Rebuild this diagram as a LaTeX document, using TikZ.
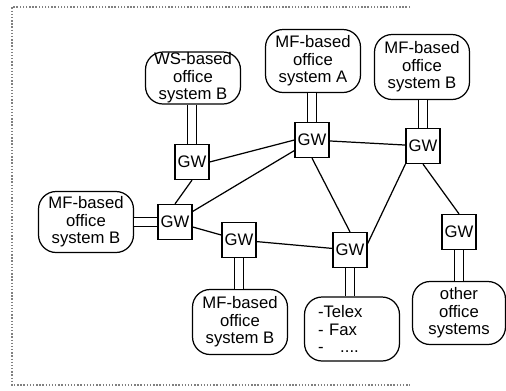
\documentclass[tikz,border=0pt]{standalone}
\usepackage{fontspec}
\setmainfont{Liberation Sans}
\begin{document}
\begin{tikzpicture}[x=0.02cm,y=-0.02cm]
\tikzstyle{every node}+=[inner sep=0pt, font=\fontsize{9.5}{10}\selectfont]
\tikzstyle{office}=[draw, line width=0.7pt, rounded corners=10pt, minimum width=1.9cm, minimum height=1.26cm, align=center]
\tikzstyle{gw}=[draw, line width=0.7pt, minimum width=0.68cm, minimum height=0.7cm]
\tikzstyle{link}=[line width=0.7pt]
\tikzstyle{dbl}=[line width=0.7pt, double=white, double distance=4pt]
\useasboundingbox (0,0) rectangle (506,390);
% scanned frame
\draw [gray, densely dotted, line width=0.8pt] (410,7) -- (12,7) -- (12,385) -- (410,385);
% office systems
\node [office, minimum height=1.04cm] (ws) at (193,78) {WS-based\\office\\system B};
\node [office] (mfa) at (313,61) {MF-based\\office\\system A};
\node [office, minimum height=1.3cm] (mfr) at (422,67) {MF-based\\office\\system B};
\node [office, minimum height=1.22cm] (mfl) at (86,222) {MF-based\\office\\system B};
\node [office, minimum height=1.3cm] (mfb) at (240,322) {MF-based\\office\\system B};
\node [office, minimum height=1.28cm, text width=1.36cm, align=left] (tlx) at (352,329) {-Telex\\- Fax\\-\ \ \ ....};
\node [office, minimum width=1.86cm] (oth) at (459,313) {other\\office\\systems};
% gateways
\node [gw] (gw1) at (192,162) {GW};
\node [gw] (gwa) at (312,140) {GW};
\node [gw] (gwr) at (423,146) {GW};
\node [gw] (gwl) at (175,222) {GW};
\node [gw] (gwm) at (239,240) {GW};
\node [gw] (gwt) at (350,250) {GW};
\node [gw] (gwo) at (459,232) {GW};
% gateway network
\draw [link] (gw1.east) -- (gwa.west);
\draw [link] (gw1.south) -- (gwl.north);
\draw [link] (gwl) -- (gwa);
\draw [link] (gwl) -- (gwm);
\draw [link] (gwm) -- (gwt);
\draw [link] (gwa) -- (gwr);
\draw [link] (gwa.south) -- (gwt.north);
\draw [link] (gwr.south west) -- (gwt.20);
\draw [link] (gwr.south) -- (gwo.north);
% attachments
\draw [dbl] (gw1.north) -- (gw1 |- ws.south);
\draw [dbl] (gwa.north) -- (gwa |- mfa.south);
\draw [dbl] (gwr.north) -- (gwr |- mfr.south);
\draw [dbl] (gwl.west) -- (gwl -| mfl.east);
\draw [dbl] (gwm.south) -- (gwm |- mfb.north);
\draw [dbl] (gwt.south) -- (gwt |- tlx.north);
\draw [dbl] (gwo.south) -- (gwo |- oth.north);
\end{tikzpicture}
\end{document}
